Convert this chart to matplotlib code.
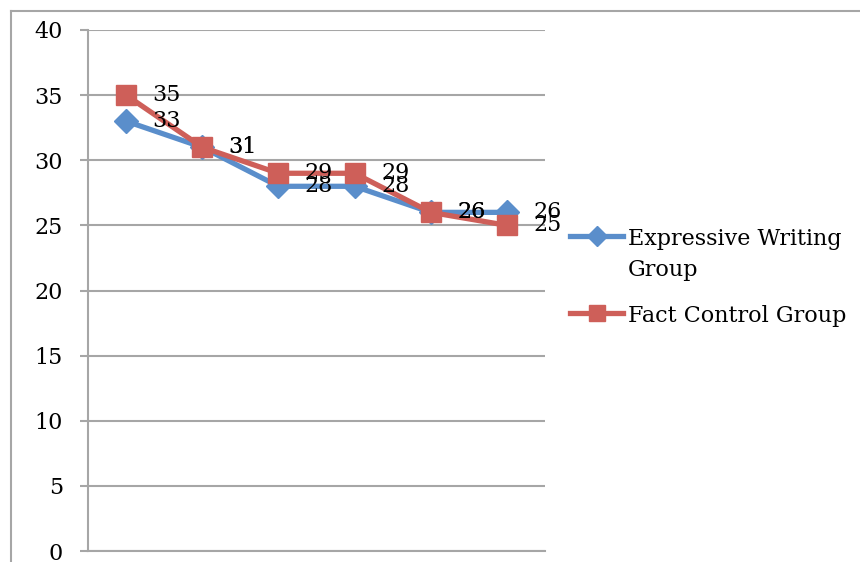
import matplotlib
matplotlib.use("Agg")
import matplotlib.pyplot as plt
from matplotlib.lines import Line2D

categories = ["1", "2", "3", "4", "5", "6"]
expressive = [33, 31, 28, 28, 26, 26]
fact = [35, 31, 29, 29, 26, 25]
series_names = ["Expressive Writing\nGroup", "Fact Control Group"]
yticks = [0, 5, 10, 15, 20, 25, 30, 35, 40]

W, H = 860, 562
fig = plt.figure(figsize=(W / 100, H / 100), dpi=100)
font = "DejaVu Serif"
fs = 16

ax = fig.add_axes([88 / W, (H - 551) / H, (545 - 88) / W, (551 - 30) / H])
x = list(range(len(categories)))
blue = "#5A8ECB"
red = "#CE5F59"
ax.plot(x, expressive, color=blue, lw=3.8, marker="D", ms=12, mec=blue, mfc=blue, zorder=3)
ax.plot(x, fact, color=red, lw=3.8, marker="s", ms=14.5, mec=red, mfc=red, zorder=4)

for series in (expressive, fact):
    for xi, v in zip(x, series):
        ax.annotate(str(v), (xi, v), xytext=(19, 0), textcoords="offset points",
                    ha="left", va="center", fontsize=fs, family=font, zorder=5)

ax.set_xlim(-0.5, len(categories) - 0.5)
ax.set_ylim(0, 40)
ax.set_yticks(yticks)
ax.set_yticklabels([str(t) for t in yticks], fontsize=fs, family=font)
ax.set_xticks([])
ax.grid(axis="y", color="#A6A6A6", lw=1.5)
ax.set_axisbelow(True)
for s in ["top", "right"]:
    ax.spines[s].set_visible(False)
for s in ["left", "bottom"]:
    ax.spines[s].set_color("#A6A6A6")
    ax.spines[s].set_linewidth(1.5)
ax.tick_params(axis="y", length=6, width=1.5, color="#A6A6A6", pad=12)

# legend drawn manually (marker aligned with first text line, as in reference)
leg_items = [(series_names[0], blue, "D", 10, 236), (series_names[1], red, "s", 12, 313)]
for name, col, mk, ms, ypx in leg_items:
    yf = 1 - ypx / H
    fig.add_artist(Line2D([570 / W, 623 / W], [yf, yf], color=col, lw=3.8))
    fig.add_artist(Line2D([596.5 / W], [yf], color=col, marker=mk, ms=ms, mfc=col, mec=col, lw=0))
    fig.text(628 / W, 1 - (ypx - 8) / H, name, ha="left", va="top",
             fontsize=fs, family=font, linespacing=1.55)

# outer chart frame
fig.add_artist(Line2D([11 / W, 11 / W], [0, 1 - 11 / H], color="#A6A6A6", lw=1.5))
fig.add_artist(Line2D([11 / W, 1], [1 - 11 / H, 1 - 11 / H], color="#A6A6A6", lw=1.5))

fig.savefig("out.png", dpi=100)
